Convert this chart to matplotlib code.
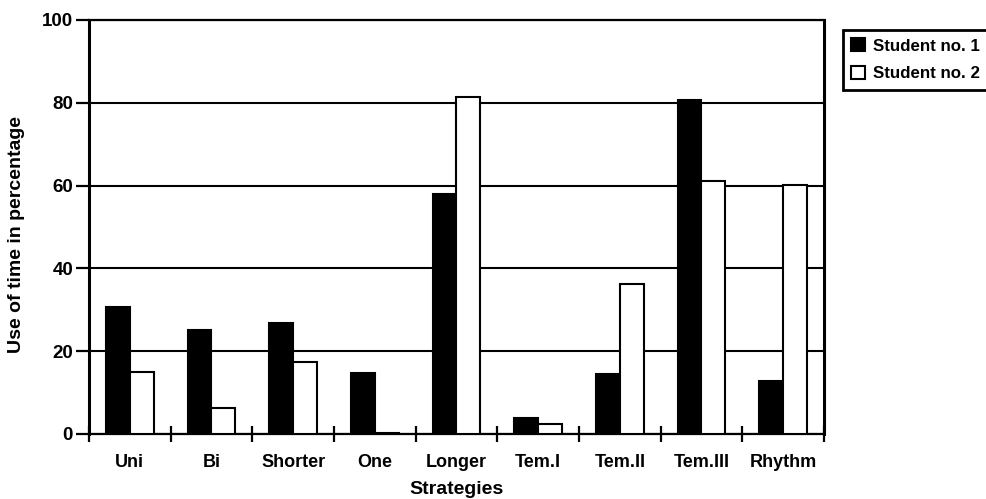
import matplotlib
matplotlib.use("Agg")
import matplotlib.pyplot as plt
from matplotlib.patches import Patch
import numpy as np

plt.rcParams["font.family"] = ["Liberation Sans", "DejaVu Sans"]
plt.rcParams["font.weight"] = "bold"

categories = ["Uni", "Bi", "Shorter", "One", "Longer", "Tem.I", "Tem.II", "Tem.III", "Rhythm"]
student_1 = [30.7, 25.2, 26.8, 14.7, 58.0, 3.9, 14.5, 80.7, 12.9]
student_2 = [15.0, 6.4, 17.5, 0.3, 81.3, 2.3, 36.2, 61.1, 60.1]
series_names = ["Student no. 1", "Student no. 2"]
y_ticks = [0, 20, 40, 60, 80, 100]

fig = plt.figure(figsize=(9.86, 4.99), dpi=100)
ax = fig.add_axes([89 / 986, 1 - 434 / 499, 735 / 986, 414 / 499])

x = np.arange(len(categories))
w = 0.29
ax.bar(x - w / 2, student_1, width=w, color="black", edgecolor="black",
       linewidth=1.5, zorder=3)
ax.bar(x + w / 2, student_2, width=w, color="white", edgecolor="black",
       linewidth=1.5, zorder=3)

ax.set_xlim(-0.5, len(categories) - 0.5)
ax.set_ylim(0, 100)

# horizontal grid behind the bars
ax.set_yticks(y_ticks)
ax.yaxis.grid(True, color="black", linewidth=1.5)
ax.set_axisbelow(True)

# category boundaries carry the tick marks, names sit at the centres
ax.set_xticks(np.arange(-0.5, len(categories)), minor=False)
ax.set_xticklabels([""] * (len(categories) + 1))
ax.set_xticks(x, minor=True)
ax.set_xticklabels(categories, minor=True, fontsize=13, fontweight="bold")
ax.tick_params(axis="x", which="major", direction="inout", length=11, width=1.6)
ax.tick_params(axis="x", which="minor", length=0, pad=14.5)
ax.tick_params(axis="y", direction="out", length=9.5, width=1.6, pad=2,
               labelsize=13.5)
for lbl in ax.get_yticklabels():
    lbl.set_fontweight("bold")

for side in ("left", "right"):
    ax.spines[side].set_linewidth(2.2)
for side in ("top", "bottom"):
    ax.spines[side].set_linewidth(1.6)

ax.set_ylabel("Use of time in percentage", fontsize=14, fontweight="bold")
ax.yaxis.set_label_coords(-0.087, 0.481)
ax.set_xlabel("Strategies", fontsize=14, fontweight="bold")
ax.xaxis.set_label_coords(0.5, -0.114)
ax.xaxis.label.set_va("top")

handles = [
    Patch(facecolor="black", edgecolor="black", linewidth=1.5, label=series_names[0]),
    Patch(facecolor="white", edgecolor="black", linewidth=1.5, label=series_names[1]),
]
leg = fig.legend(handles=handles, loc="upper left",
                 bbox_to_anchor=(843 / 986, 1 - 30 / 499),
                 borderaxespad=0, fancybox=False, edgecolor="black",
                 framealpha=1, handlelength=0.8,
                 handleheight=0.8, handletextpad=0.45, labelspacing=0.7,
                 borderpad=0.5, prop={"weight": "bold", "size": 12.2})
leg.get_frame().set_linewidth(2)

fig.savefig("out.png", dpi=100)
